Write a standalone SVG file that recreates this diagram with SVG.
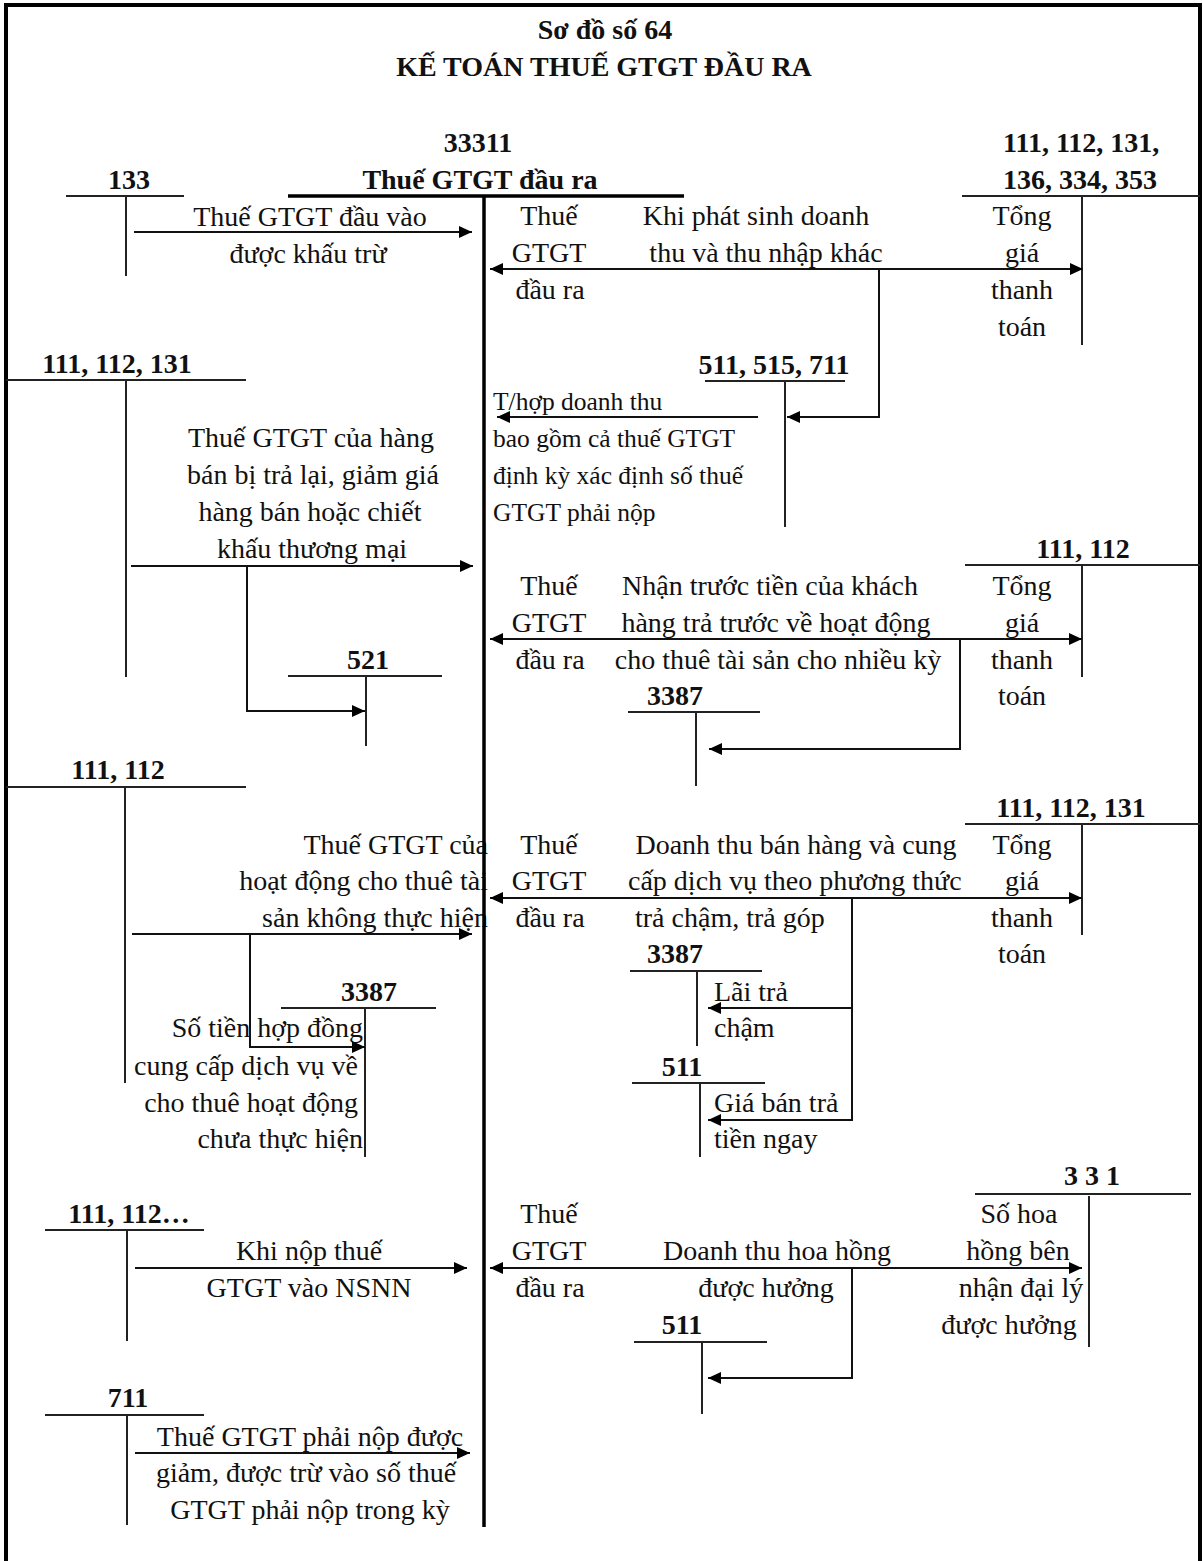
<svg xmlns="http://www.w3.org/2000/svg" width="1203" height="1561" viewBox="0 0 1203 1561">
<style>
.t{font-family:"Liberation Serif","Times New Roman",serif;font-size:28px;fill:#111}
.b{font-weight:bold}
.m{text-anchor:middle}
.e{text-anchor:end}
.s{font-size:25.5px}
.ln{stroke:#222;stroke-width:2;fill:none}
.tk{stroke:#000;stroke-width:3.5;fill:none}
.c{stroke:#111;stroke-width:2;fill:none}
.arr{marker-end:url(#ah)}
.dbl{marker-start:url(#ah);marker-end:url(#ah)}
</style>
<defs>
<marker id="ah" markerWidth="13" markerHeight="12" refX="13" refY="6" orient="auto-start-reverse" markerUnits="userSpaceOnUse"><path d="M0,0 L13,6 L0,12 z" fill="#000"/></marker>
</defs>
<rect x="0" y="0" width="1203" height="1561" fill="#fff"/>
<rect x="6" y="5" width="1194" height="1620" fill="none" stroke="#000" stroke-width="4"/>

<g id="title">
<text class="t b m" x="605" y="39">Sơ đồ số 64</text>
<text class="t b m" x="604" y="76">KẾ TOÁN THUẾ GTGT ĐẦU RA</text>
</g>

<g id="acc-133">
<text class="t b m" x="129" y="189">133</text>
<path class="ln" d="M66,196 H184 M126,196 V276"/>
</g>

<g id="acc-111-112-131-136-334-353">
<text class="t b" x="1003" y="152">111, 112, 131,</text>
<text class="t b" x="1003" y="189">136, 334, 353</text>
<path class="ln" d="M962,196 H1200 M1082,196 V345"/>
</g>

<g id="acc-511-515-711">
<text class="t b m" x="774" y="374">511, 515, 711</text>
<path class="ln" d="M705,381 H845 M785,381 V527"/>
</g>

<g id="acc-111-112-131-left">
<text class="t b m" x="117" y="373">111, 112, 131</text>
<path class="ln" d="M6,380 H246 M126,380 V677"/>
</g>

<g id="acc-521">
<text class="t b m" x="368" y="669">521</text>
<path class="ln" d="M288,676 H442 M366,676 V746"/>
</g>

<g id="acc-111-112-right">
<text class="t b m" x="1083" y="558">111, 112</text>
<path class="ln" d="M965,565 H1200 M1082,565 V677"/>
</g>

<g id="acc-3387-a">
<text class="t b m" x="675" y="705">3387</text>
<path class="ln" d="M628,712 H760 M696,712 V786"/>
</g>

<g id="acc-111-112-left">
<text class="t b m" x="118" y="779">111, 112</text>
<path class="ln" d="M6,787 H246 M125,787 V1083"/>
</g>

<g id="acc-3387-b">
<text class="t b m" x="369" y="1001">3387</text>
<path class="ln" d="M281,1008 H436 M365,1008 V1157"/>
</g>

<g id="acc-111-112-131-right">
<text class="t b m" x="1071" y="817">111, 112, 131</text>
<path class="ln" d="M965,824 H1200 M1082,824 V935"/>
</g>

<g id="acc-3387-c">
<text class="t b m" x="675" y="963">3387</text>
<path class="ln" d="M630,971 H762 M697,971 V1046"/>
</g>

<g id="acc-511-a">
<text class="t b m" x="682" y="1076">511</text>
<path class="ln" d="M632,1083 H765 M700,1083 V1157"/>
</g>

<g id="acc-111-112-etc">
<text class="t b m" x="129" y="1223">111, 112…</text>
<path class="ln" d="M45,1230 H204 M127,1230 V1341"/>
</g>

<g id="acc-331">
<text class="t b m" x="1092" y="1185">3 3 1</text>
<path class="ln" d="M975,1194 H1191 M1089,1196 V1347"/>
</g>

<g id="acc-511-b">
<text class="t b m" x="682" y="1334">511</text>
<path class="ln" d="M634,1342 H767 M702,1342 V1414"/>
</g>

<g id="acc-711">
<text class="t b m" x="128" y="1407">711</text>
<path class="ln" d="M45,1415 H204 M127,1415 V1525"/>
</g>

<g id="connector-labels">
<text class="t m" x="310" y="226">Thuế GTGT đầu vào</text>
<text class="t m" x="308" y="263">được khấu trừ</text>

<text class="t m" x="549" y="225">Thuế</text>
<text class="t m" x="549" y="262">GTGT</text>
<text class="t m" x="550" y="299">đầu ra</text>
<text class="t m" x="756" y="225">Khi phát sinh doanh</text>
<text class="t m" x="766" y="262">thu và thu nhập khác</text>
<text class="t m" x="1022" y="225">Tổng</text>
<text class="t m" x="1022" y="262">giá</text>
<text class="t m" x="1022" y="299">thanh</text>
<text class="t m" x="1022" y="336">toán</text>

<text class="t s" x="493" y="410">T/hợp doanh thu</text>
<text class="t s" x="493" y="447">bao gồm cả thuế GTGT</text>
<text class="t s" x="493" y="484">định kỳ xác định số thuế</text>
<text class="t s" x="493" y="521">GTGT phải nộp</text>

<text class="t m" x="311" y="447">Thuế GTGT của hàng</text>
<text class="t m" x="313" y="484">bán bị trả lại, giảm giá</text>
<text class="t m" x="310" y="521">hàng bán hoặc chiết</text>
<text class="t m" x="312" y="558">khấu thương mại</text>

<text class="t m" x="549" y="595">Thuế</text>
<text class="t m" x="549" y="632">GTGT</text>
<text class="t m" x="550" y="669">đầu ra</text>
<text class="t m" x="770" y="595">Nhận trước tiền của khách</text>
<text class="t m" x="776" y="632">hàng trả trước về hoạt động</text>
<text class="t m" x="778" y="669">cho thuê tài sản cho nhiều kỳ</text>
<text class="t m" x="1022" y="595">Tổng</text>
<text class="t m" x="1022" y="632">giá</text>
<text class="t m" x="1022" y="669">thanh</text>
<text class="t m" x="1022" y="705">toán</text>

<text class="t e" x="488" y="854">Thuế GTGT của</text>
<text class="t e" x="488" y="890">hoạt động cho thuê tài</text>
<text class="t e" x="488" y="927">sản không thực hiện</text>
<text class="t e" x="363" y="1037">Số tiền hợp đồng</text>
<text class="t e" x="358" y="1075">cung cấp dịch vụ về</text>
<text class="t e" x="358" y="1112">cho thuê hoạt động</text>
<text class="t e" x="363" y="1148">chưa thực hiện</text>

<text class="t m" x="549" y="854">Thuế</text>
<text class="t m" x="549" y="890">GTGT</text>
<text class="t m" x="550" y="927">đầu ra</text>
<text class="t m" x="796" y="854">Doanh thu bán hàng và cung</text>
<text class="t" x="628" y="890">cấp dịch vụ theo phương thức</text>
<text class="t" x="635" y="927">trả chậm, trả góp</text>
<text class="t m" x="1022" y="854">Tổng</text>
<text class="t m" x="1022" y="890">giá</text>
<text class="t m" x="1022" y="927">thanh</text>
<text class="t m" x="1022" y="963">toán</text>
<text class="t" x="714" y="1001">Lãi trả</text>
<text class="t" x="714" y="1037">chậm</text>
<text class="t" x="714" y="1112">Giá bán trả</text>
<text class="t" x="714" y="1148">tiền ngay</text>

<text class="t m" x="309" y="1260">Khi nộp thuế</text>
<text class="t m" x="309" y="1297">GTGT vào NSNN</text>
<text class="t m" x="549" y="1223">Thuế</text>
<text class="t m" x="549" y="1260">GTGT</text>
<text class="t m" x="550" y="1297">đầu ra</text>
<text class="t m" x="777" y="1260">Doanh thu hoa hồng</text>
<text class="t m" x="766" y="1297">được hưởng</text>
<text class="t m" x="1019" y="1223">Số hoa</text>
<text class="t m" x="1018" y="1260">hồng bên</text>
<text class="t m" x="1021" y="1297">nhận đại lý</text>
<text class="t m" x="1009" y="1334">được hưởng</text>

<text class="t m" x="310" y="1446">Thuế GTGT phải nộp được</text>
<text class="t m" x="306" y="1482">giảm, được trừ vào số thuế</text>
<text class="t m" x="310" y="1519">GTGT phải nộp trong kỳ</text>
</g>

<g id="connectors">
<path class="c arr" d="M134,232 H472"/>
<path class="c dbl" d="M490,269 H1083"/>
<path class="c arr" d="M879,269 V417 H787"/>
<path class="c arr" d="M758,417 H497"/>

<path class="c arr" d="M131,566 H473"/>
<path class="c arr" d="M247,566 V711 H365"/>
<path class="c dbl" d="M490,639 H1082"/>
<path class="c arr" d="M960,639 V749 H709"/>

<path class="c arr" d="M132,934 H472"/>
<path class="c arr" d="M250,934 V1047 H365"/>
<path class="c dbl" d="M490,898 H1082"/>
<path class="c arr" d="M852,898 V1120 H708"/>
<path class="c arr" d="M852,1008 H708"/>

<path class="c arr" d="M135,1268 H467"/>
<path class="c dbl" d="M490,1268 H1082"/>
<path class="c arr" d="M852,1268 V1378 H708"/>

<path class="c arr" d="M135,1453 H470"/>
</g>

<g id="acc-33311">
<text class="t b m" x="478" y="152">33311</text>
<text class="t b m" x="480" y="189">Thuế GTGT đầu ra</text>
<path class="tk" d="M288,196 H684 M484,196 V1527"/>
</g>
</svg>
